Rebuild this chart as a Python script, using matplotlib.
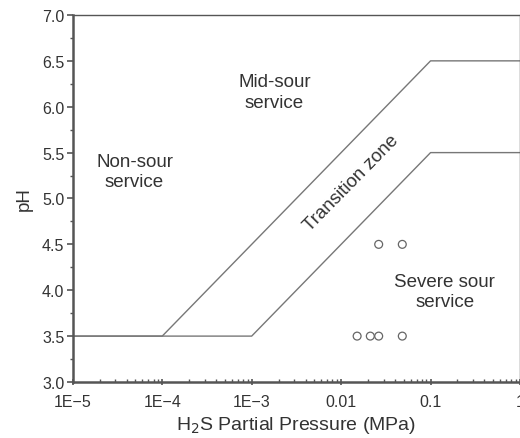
import matplotlib
matplotlib.use("Agg")
import matplotlib.pyplot as plt
from matplotlib.ticker import FixedLocator, FixedFormatter, LogLocator, MultipleLocator, NullFormatter, FormatStrFormatter

# Boundary lines
upper_x = [1e-5, 1e-4, 0.1, 1.0]
upper_y = [3.5, 3.5, 6.5, 6.5]
lower_x = [1e-5, 1e-3, 0.1, 1.0]
lower_y = [3.5, 3.5, 5.5, 5.5]

# Test points
pts_x = [0.0151, 0.0212, 0.0263, 0.0483, 0.0263, 0.0483]
pts_y = [3.5, 3.5, 3.5, 3.5, 4.5, 4.5]

xticks = [1e-5, 1e-4, 1e-3, 1e-2, 1e-1, 1.0]
xticklabels = ["1E\u22125", "1E\u22124", "1E\u22123", "0.01", "0.1", "1"]

plt.rcParams['font.family'] = ['Liberation Sans', 'DejaVu Sans']

fig = plt.figure(figsize=(5.2, 4.39), dpi=100)
ax = fig.add_axes([0.140, 0.1276, 0.860, 0.836])

ax.plot(upper_x, upper_y, color="#777777", lw=1.0)
ax.plot(lower_x, lower_y, color="#777777", lw=1.0)
ax.scatter(pts_x, pts_y, s=32, facecolors="none", edgecolors="#666666", linewidths=0.9, zorder=3)

ax.set_xscale("log")
ax.set_xlim(1e-5, 1.0)
ax.set_ylim(3.0, 7.0)

ax.xaxis.set_major_locator(FixedLocator(xticks))
ax.xaxis.set_major_formatter(FixedFormatter(xticklabels))
ax.xaxis.set_minor_locator(LogLocator(base=10, subs=range(2, 10)))
ax.xaxis.set_minor_formatter(NullFormatter())
ax.yaxis.set_major_locator(MultipleLocator(0.5))
ax.yaxis.set_minor_locator(MultipleLocator(0.25))
ax.yaxis.set_major_formatter(FormatStrFormatter("%.1f"))

ax.tick_params(axis="y", which="major", direction="out", length=4, width=1.2,
               color="#555555", labelsize=11.5, labelcolor="#333333", pad=2)
ax.tick_params(axis="y", which="minor", direction="out", length=2.5, width=1.0, color="#555555")
ax.tick_params(axis="x", which="major", direction="inout", length=5, width=1.2,
               color="#555555", labelsize=11.5, labelcolor="#333333", pad=6)
ax.tick_params(axis="x", which="minor", direction="in", length=2.5, width=1.0, color="#555555")

for side in ["left", "bottom"]:
    ax.spines[side].set_linewidth(1.8)
    ax.spines[side].set_color("#555555")
for side in ["top", "right"]:
    ax.spines[side].set_linewidth(1.0)
    ax.spines[side].set_color("#555555")

ax.set_xlabel("H$_2$S Partial Pressure (MPa)", fontsize=14, color="#333333", labelpad=4)
ax.set_ylabel("pH", fontsize=13.5, color="#333333", labelpad=7)

tc = "#333333"
ax.text(4.9e-5, 5.29, "Non-sour\nservice", ha="center", va="center", fontsize=13.5, color=tc, linespacing=1.25)
ax.text(1.8e-3, 6.16, "Mid-sour\nservice", ha="center", va="center", fontsize=13.5, color=tc, linespacing=1.25)
ax.text(0.0131, 5.17, "Transition zone", ha="center", va="center", fontsize=13.5, color=tc, rotation=45.5)
ax.text(0.144, 3.99, "Severe sour\nservice", ha="center", va="center", fontsize=13.5, color=tc, linespacing=1.25)

fig.savefig("out.png", dpi=100)
